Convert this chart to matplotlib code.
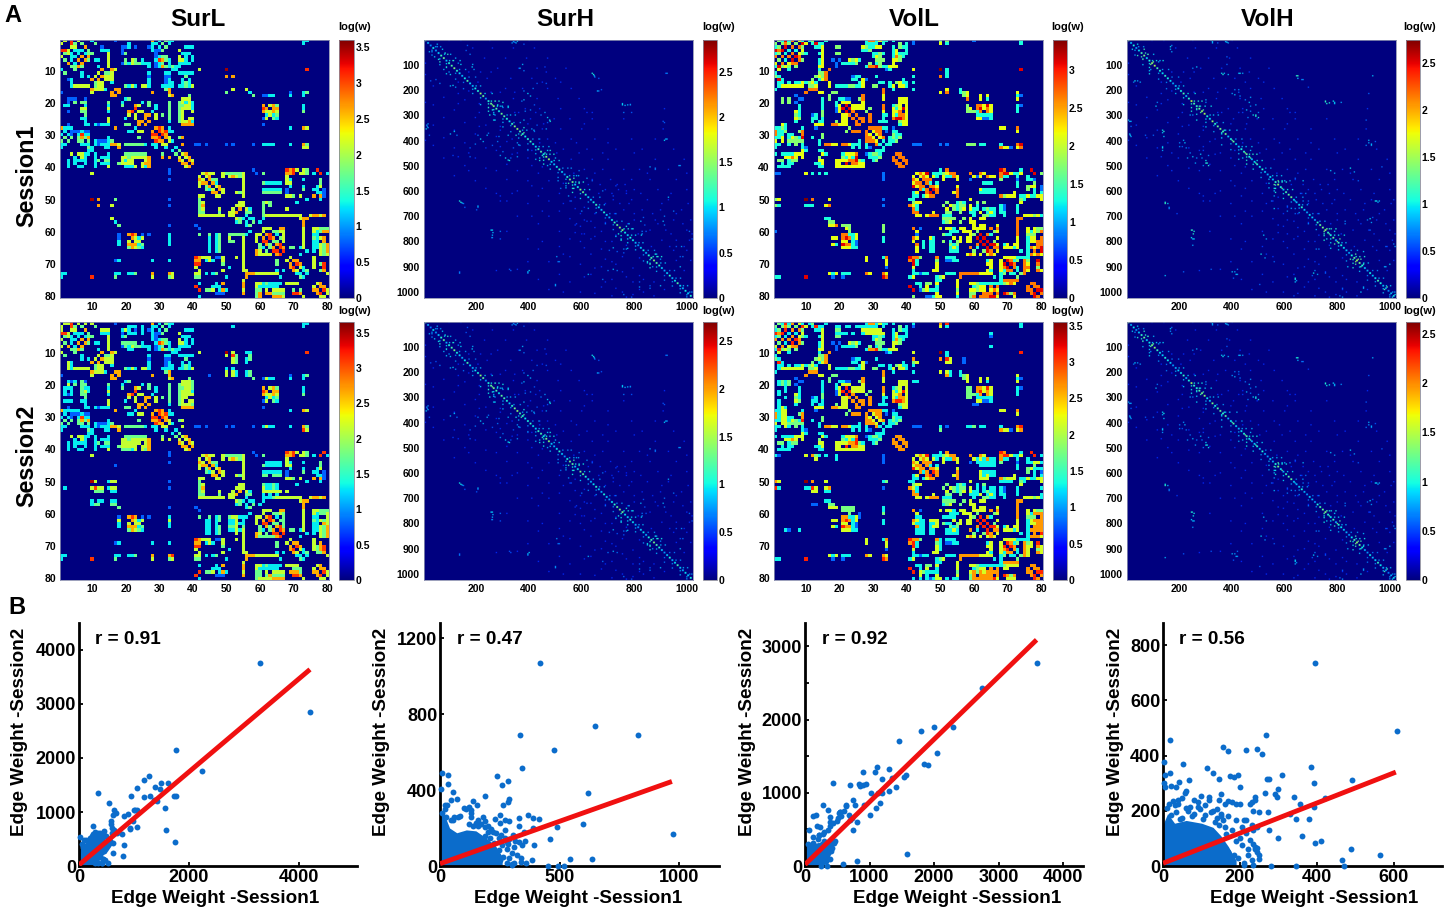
import numpy as np
import matplotlib
matplotlib.use("Agg")
import matplotlib.pyplot as plt

plt.rcParams['font.family'] = ['Liberation Sans', 'DejaVu Sans']
plt.rcParams['font.weight'] = 'bold'

W, H = 1446, 913

# colour levels (log w)
K, R, O, Y, G, C, B = 3.5, 3.1, 2.65, 2.15, 1.75, 1.3, 0.8

# (row, cols, level), matrices are symmetric so one triangle is enough
SURL_BASE = [
    (1, [2, 6], Y), (1, [4], R), (1, [10], C), (1, [17], B), (1, [28, 32], O), (1, [30], R), (1, [34], C), (1, [73, 74], C),
    (2, [5, 7, 11], G), (2, [29, 31, 33], C),
    (3, [8], O), (3, [4, 5], Y), (3, [13, 19, 20, 23, 27], B), (3, [38, 39, 40], C),
    (4, [1, 2], R), (4, [5, 6, 7], C), (4, [9], G), (4, [13, 14, 15], C), (4, [19, 29, 30], B),
    (5, [6, 8, 37], C), (5, [9, 10], G), (5, [39], C),
    (6, [7, 9], O), (6, [15], Y), (6, [29, 30, 31], Y), (6, [38, 40], C),
    (7, [8], O), (7, [9, 15], G), (7, [11, 12], C), (7, [29, 32, 33], C), (7, [30, 31], O), (7, [36, 37], Y),
    (8, [15], Y), (8, [19, 20, 21, 24, 25], G), (8, [22, 23], Y), (8, [26, 27], C), (8, [36, 38, 39], C),
    (9, [12, 15], C), (9, [27, 29, 30, 34], G), (9, [31], O), (9, [33, 36], C),
    (10, [50], K), (10, [74], R), (10, [13, 16], O), (10, [17], Y), (10, [34, 35], C), (10, [42], G),
    (11, [12], Y), (11, [14, 15], G), (11, [27, 32, 33, 36, 38, 40], C),
    (12, [13, 16], O), (12, [50, 52], O), (12, [14, 15], Y), (12, [27, 32, 33], B),
    (13, [14, 15], Y), (13, [16], C), (13, [37, 39], C),
    (14, [16], C), (14, [27, 37, 38, 39], C),
    (15, [5, 6, 7, 8, 9], Y), (15, [20, 21, 22, 23], G), (15, [25, 26, 27], Y), (15, [31, 32], C), (15, [37, 38, 39, 40], Y),
    (16, [11, 12, 13], Y), (16, [17, 18], O), (16, [33], O), (16, [52], Y), (16, [56], G),
    (17, [18], O), (17, [28], Y), (17, [33], C), (17, [50], C), (17, [57], C), (17, [69], B), (17, [73, 74], C),
    (18, [33, 34], O), (18, [39], G), (18, [58], G), (18, [62], G), (18, [64], C), (18, [69], B), (18, [73], G),
    (19, [3, 5, 8], B), (19, [20, 21], G), (19, [37, 38, 39], C),
    (20, [5, 7, 8], G), (20, [19, 25], C), (20, [37, 38, 39, 40], C),
    (21, [2, 3, 8, 15], C), (21, [23], O), (21, [24], Y), (21, [33], Y), (21, [37, 40], G),
    (22, [7, 8], Y), (22, [15], Y), (22, [23], R), (22, [33], Y), (22, [37, 39, 40], Y), (22, [62, 64, 65], O), (22, [73], C),
    (23, [7, 8], G), (23, [15], C), (23, [24, 25], Y), (23, [28], C), (23, [33], C), (23, [36, 37, 40], Y), (23, [62, 65], Y), (23, [73], G),
    (24, [8], G), (24, [26, 27], O), (24, [31], G), (24, [33], C), (24, [36, 37], C), (24, [62], C), (24, [64, 65], C),
    (25, [7, 8], C), (25, [26], O), (25, [33], G), (25, [37, 40], Y), (25, [62, 64, 65], Y),
    (26, [26, 27], O), (26, [33], C), (26, [36, 37], C), (26, [39], R),
    (27, [8, 9, 11, 13, 14, 15], C), (27, [20, 21], G), (27, [37, 38, 39, 40], O), (27, [61], B),
    (28, [1], O), (28, [2, 3, 4], C), (28, [17], O), (28, [29, 31], O), (28, [30], R), (28, [33], C), (28, [69], C), (28, [73], O), (28, [74], Y),
    (29, [5, 6, 8, 9], B), (29, [30, 32], R), (29, [31], O), (29, [21, 22], C), (29, [33, 34], C), (29, [24, 25], Y),
    (30, [1, 3, 6, 8, 9], C), (30, [7], R), (30, [31], R), (30, [32], O),
    (31, [2, 4, 6, 8], G), (31, [32], O), (31, [33], Y), (31, [36], G), (31, [37], Y),
    (32, [1, 3, 6, 7, 9], G), (32, [12, 13, 14], B), (32, [16], G), (32, [33], Y), (32, [34], C),
    (33, [1, 2, 8], C), (33, [13, 14, 15], C), (33, [17], O), (33, [18], Y), (33, [20, 21, 22, 23, 24, 25], G), (33, [41, 42, 44], B), (33, [50, 52], B), (33, [58], B), (33, [61, 62, 63, 64], C), (33, [69], C), (33, [73], R), (33, [74], Y),
    (34, [35], C), (34, [73, 74], Y), (34, [14, 15], C),
    (35, [36], G), (35, [9, 10], C),
    (36, [4, 6, 7], Y), (36, [9, 15], C), (36, [37], Y), (36, [38], O), (36, [20, 21, 22, 23, 24, 25, 26], G),
    (37, [8, 11, 13, 15], C), (37, [19, 20, 24, 25, 26], Y), (37, [38], Y), (37, [39], O), (37, [31, 33], O),
    (38, [3, 5, 6, 7, 8], C), (38, [12, 14, 15], G), (38, [19, 21, 22, 26], Y), (38, [39], O), (38, [40], Y),
    (39, [3, 5, 8], C), (39, [11, 14, 15], C), (39, [19, 20, 21, 22, 25, 26], Y), (39, [26], O), (39, [40], O),
    (40, [20, 21, 22, 26], C), (40, [6, 7], C),
    (42, [43, 45, 46, 49], Y), (42, [44], O), (42, [51, 52, 53, 54], G), (42, [55], C), (42, [59], C), (42, [61], G), (42, [68], O), (42, [69, 70], R), (42, [72, 73, 74], G), (42, [76], C), (42, [78], R), (42, [80], G), (42, [10], Y),
    (43, [44], Y), (43, [45], O), (43, [52, 53, 54], Y), (43, [55], C), (43, [68], G),
    (44, [42, 45], O), (44, [55], Y), (44, [68], Y), (44, [73], C), (44, [46, 47], G),
    (45, [46], O), (45, [47], C), (45, [55], C), (45, [61, 62, 63, 64, 65, 66], C), (45, [68, 69], Y),
    (46, [47], Y), (46, [48], O), (46, [55], Y), (46, [69], G), (46, [77, 78], Y),
    (47, [48], O), (47, [49], Y), (47, [55], Y), (47, [61, 62, 63, 64, 65, 66], C), (47, [73], G), (47, [76, 79], C),
    (48, [49], Y), (48, [53, 54, 55], Y), (48, [61, 62, 63, 64, 65, 66], G), (48, [77, 78], C),
    (49, [68, 69], Y), (49, [70], G), (49, [72], Y), (49, [76, 78], O), (49, [42, 43], Y),
    (50, [42], G), (50, [10], K), (50, [12], O), (50, [17], G),
    (51, [54, 55], Y), (51, [61, 63], G), (51, [43], Y),
    (52, [53, 54, 55], Y), (52, [61, 63], G), (52, [43], O), (52, [12], O), (52, [16], Y),
    (53, [54], O), (53, [56], Y), (53, [57], C), (53, [43], Y),
    (54, [56, 57], G), (54, [61], Y), (54, [43, 48], G),
    (55, [42, 43, 44, 45, 46, 47, 48, 49], Y), (55, [56], C), (55, [61], Y), (55, [63, 64, 65, 66, 67, 68, 69], Y), (55, [70, 71, 72], Y), (55, [75, 76], Y), (55, [77, 78, 79], O),
    (56, [16], Y), (56, [57, 58], C), (56, [61], C), (56, [73], R),
    (57, [58], G), (57, [60], C), (57, [73], O), (57, [17], C),
    (58, [73], O), (58, [33], B), (58, [41], B), (58, [18], G),
    (59, [61, 62, 63], Y), (59, [66, 67], O), (59, [73], Y), (59, [77], Y), (59, [79, 80], G), (59, [42], B),
    (60, [61], Y), (60, [64, 65], G), (60, [66], Y), (60, [73], O),
    (61, [18], B), (61, [21, 23], O), (61, [22], R), (61, [25], B), (61, [33], C), (61, [42, 45], G), (61, [51, 53, 54, 55], G), (61, [62], O), (61, [63], R), (61, [65], C), (61, [73], O), (61, [76, 77], C),
    (62, [18], B), (62, [33], C), (62, [45], C), (62, [51, 55], Y), (62, [63], R), (62, [64], O), (62, [66], G), (62, [73], Y), (62, [76, 78], G),
    (63, [18], C), (63, [21], Y), (63, [23, 24], Y), (63, [33], C), (63, [45], C), (63, [64, 65], G), (63, [67], Y), (63, [73], Y), (63, [77], C),
    (64, [45], C), (64, [21, 23], O), (64, [25], G), (64, [55], Y), (64, [65], O), (64, [66], R), (64, [73], G), (64, [76, 78, 80], Y),
    (65, [21, 24], G), (65, [25], C), (65, [45], C), (65, [55], Y), (65, [66], R), (65, [67], O), (65, [69], G), (65, [70], C), (65, [72], C), (65, [77, 79], Y),
    (66, [45], C), (66, [55], Y), (66, [67], R), (66, [76, 78, 80], G),
    (67, [55], Y), (67, [72], C), (67, [78, 80], Y), (67, [60, 61, 62, 63], Y),
    (68, [41], R), (68, [43, 44], Y), (68, [47, 48], B), (68, [53, 55], Y), (68, [69], Y), (68, [76], C),
    (69, [18], C), (69, [28], C), (69, [33], C), (69, [41, 42], O), (69, [44, 46], C), (69, [55], Y), (69, [70], O), (69, [71], O),
    (70, [41], R), (70, [70], O), (70, [71], R), (70, [72], O), (70, [76], G), (70, [79], R), (70, [65], G),
    (71, [41], Y), (71, [51], C), (71, [72], Y), (71, [73], C), (71, [76], C), (71, [79], R),
    (72, [42], Y), (72, [55, 56], Y), (72, [65], C), (72, [73], C), (72, [74], G), (72, [79], O),
    (73, [1, 2], C), (73, [17, 18], C), (73, [21, 22], C), (73, [28], O), (73, [33], O), (73, [34], Y), (73, [41, 42], Y), (73, [44], C), (73, [46], C), (73, [56, 57], O), (73, [59, 60], Y), (73, [61, 62, 63, 64, 65], Y), (73, [74], C),
    (74, [10], R), (74, [17], G), (74, [1], C), (74, [28], Y), (74, [33], G), (74, [34], Y), (74, [41, 42], G), (74, [50], C), (74, [56], O), (74, [66], C),
    (76, [55], O), (76, [59, 60], Y), (76, [63, 64, 65, 66], C), (76, [68, 69, 70, 71], Y), (76, [77], Y), (76, [78], O),
    (77, [41], R), (77, [46, 47, 48], C), (77, [55], O), (77, [60, 62, 63, 64, 65], C), (77, [78], O), (77, [79], O),
    (78, [44, 45], G), (78, [48, 50], C), (78, [55], Y), (78, [59, 60], G), (78, [62, 64, 65, 66, 67], Y), (78, [70, 72], G), (78, [79], R), (78, [80], Y),
    (79, [47, 48, 49], B), (79, [55], O), (79, [60, 62, 63], O), (79, [64, 65, 66, 67], G), (79, [79, 80], O),
    (80, [42], C), (80, [60], O), (80, [64, 65, 66], O), (80, [73], Y), (80, [78, 79], Y),
]
# session 2 changes, level 0 clears a cell
SURL_S2 = [
    (10, [52], Y), (10, [56, 57], C), (11, [50], Y), (11, [52], R), (11, [53], Y), (11, [57], G), (12, [50], 0), (12, [57], G),
    (15, [50, 52], C), (16, [50, 52], Y), (16, [57], G), (17, [50], 0), (17, [45], B), (18, [62], Y),
    (1, [2, 3, 8, 10], Y), (2, [22, 23], C), (3, [13, 14, 15], Y), (3, [19, 20], Y), (4, [22, 23], C), (7, [19, 20, 21, 22, 23], G), (9, [21, 22], C),
    (19, [3, 5], C), (21, [2, 3, 4], C), (25, [2, 3, 4], C), (28, [2, 3, 4, 5, 6], C),
    (37, [31, 33], Y), (38, [19, 20, 21, 23, 24, 26], Y), (39, [19, 20, 21, 23, 25, 26], Y), (40, [19, 20, 21, 26], G),
    (34, [73], R), (33, [73], O), (33, [61], C), (33, [62], Y), (33, [64], C),
    (44, [62, 63, 64, 65, 66], C), (48, [63], 0),
    (52, [61, 63, 65], Y), (53, [61, 62, 63, 64, 65, 66], Y), (54, [61, 63, 65], C), (55, [61, 62], C),
    (62, [51, 52, 55], C), (63, [51, 52, 54, 55], C), (64, [51, 52, 55], G), (65, [51, 52], C),
    (50, [17], Y), (50, [16], Y), (52, [2], C), (52, [10, 12, 13], Y), (52, [16, 17], Y), (53, [11, 12, 13], G), (53, [16, 17], C), (56, [10, 12, 13, 16, 17], C), (57, [17], G),
    (67, [60, 61, 62, 63, 64], G), (80, [60, 61, 62, 63], Y), (80, [64, 65, 66, 67], O), (79, [60, 62, 64], G),
    (77, [70, 71, 72], G), (78, [69, 70, 71], O), (77, [41], 0), (79, [41], R),
]
VOLL_BASE = [
    (1, [2, 4, 8], Y), (1, [6], O), (1, [3, 5], C), (1, [9, 11], C), (1, [12], G), (1, [16], C), (1, [28, 29, 30], O), (1, [31, 33], C), (1, [36], C), (1, [42], B), (1, [50, 52], G), (1, [60], B), (1, [74], C),
    (2, [1, 3, 5, 7], G), (2, [9], R), (2, [12, 14, 15], C), (2, [29, 31, 33], C), (2, [13], Y),
    (3, [4], R), (3, [6, 8], O), (3, [13, 14, 15], Y), (3, [19], G), (3, [27, 28, 29, 30, 31], Y), (3, [39, 40], C),
    (4, [1], R), (4, [2], O), (4, [5, 7], C), (4, [9], Y), (4, [15], G), (4, [27, 28], C), (4, [36], C),
    (5, [6], O), (5, [8], Y), (5, [9], G), (5, [15], Y), (5, [19], G), (5, [31, 33], C), (5, [38, 39], C),
    (6, [7], R), (6, [8], O), (6, [15], G), (6, [30, 32], C), (6, [36, 37], O),
    (7, [8], O), (7, [9], G), (7, [15], Y), (7, [18], B), (7, [31, 32, 33], G), (7, [36, 37], Y),
    (8, [15], Y), (8, [19], B), (8, [21, 22, 23, 24], C), (8, [25], G), (8, [31], C),
    (9, [3, 5], G), (9, [29, 30, 31], O), (9, [33], B), (9, [34, 35, 36, 37], Y), (9, [14, 15], Y), (9, [19], B),
    (10, [2], Y), (10, [5], C), (10, [17], O), (10, [34], B), (10, [35], C), (10, [42], Y), (10, [50], K), (10, [52], C), (10, [74], R),
    (11, [14, 15, 16], G), (11, [52], C), (12, [13, 15], G), (12, [14, 16], Y), (12, [42], C), (12, [50], O), (12, [52], Y),
    (13, [2], R), (13, [3], C), (13, [15], Y), (13, [16], C), (13, [24, 25], C), (13, [27], C), (13, [28], B),
    (14, [3, 5, 7, 8, 10], C), (14, [13], C), (14, [39], C), (14, [26], C),
    (15, [3, 4, 5, 6, 7, 8, 9], Y), (15, [19, 20, 21, 22], C), (15, [23, 24, 25, 26, 27], G), (15, [30, 31], G), (15, [35, 36], Y), (15, [38, 39, 40], Y),
    (16, [11, 12, 13, 33], O), (16, [42], C), (17, [14, 15], Y), (17, [18, 19], G), (17, [33], O), (17, [50], C), (17, [52], G), (17, [56], C),
    (18, [33], O), (18, [57, 58], Y), (18, [73], G), (18, [74], B),
    (19, [20, 21], C), (19, [22, 23], B), (19, [26], G), (19, [33], O), (19, [58], O), (19, [62], Y), (19, [64], C), (19, [73], Y),
    (20, [3, 5], G), (20, [15], C), (20, [20], C), (20, [21, 22, 23], Y), (20, [38, 40], Y), (20, [7], B),
    (21, [15], C), (21, [24, 25, 26], Y), (21, [22], R), (21, [37, 38, 40], G), (21, [33], Y), (21, [74], B),
    (22, [23], R), (22, [24, 25, 26, 27], Y), (22, [29], Y), (22, [33], O), (22, [36, 38], Y), (22, [39], O), (22, [58, 59], C), (22, [61, 62, 63, 64, 65], O), (22, [73], C),
    (23, [7], Y), (23, [15], G), (23, [24], O), (23, [28], G), (23, [33], Y), (23, [36, 37, 40], Y), (23, [58, 59, 60], G), (23, [61, 62], O), (23, [65], Y), (23, [73], C),
    (24, [7], G), (24, [12], B), (24, [25], O), (24, [33, 34], C), (24, [37, 38], Y), (24, [61, 62], O), (24, [64], C), (24, [65], Y),
    (25, [7], Y), (25, [12, 15], C), (25, [26, 27], O), (25, [29], O), (25, [33], C), (25, [36], G), (25, [38], R), (25, [39], O), (25, [40], G), (25, [61, 62], Y), (25, [63, 64], B), (25, [65], C),
    (26, [7], C), (26, [12, 15], C), (26, [27], O), (26, [29], O), (26, [32, 33, 34], C), (26, [38], O),
    (27, [13, 14, 15], Y), (27, [18, 19], O), (27, [20, 21, 22], Y), (27, [38], C), (27, [39, 40], Y),
    (28, [1, 2], C), (28, [3], G), (28, [9], C), (28, [28, 29, 30, 31], O), (28, [33, 34], C), (28, [36], B), (28, [68, 69], Y), (28, [73], R),
    (29, [2, 3], C), (29, [4], G), (29, [8], G), (29, [22], G), (29, [24, 25], O), (29, [29], O), (29, [30], Y), (29, [31], O), (29, [36, 37], C), (29, [73], Y),
    (30, [2, 3, 5, 6], C), (30, [9], O), (30, [31], Y), (30, [32], O), (30, [37, 38], C),
    (31, [6], Y), (31, [9], R), (31, [12], C), (31, [29], O), (31, [32], Y), (31, [33], O), (31, [36, 37], C), (31, [38], G),
    (32, [1], Y), (32, [3], Y), (32, [5, 6], G), (32, [8, 9], G), (32, [14], C), (32, [28, 29], O), (32, [31], Y), (32, [33], C), (32, [35, 36], C), (32, [37], Y),
    (33, [1, 2], C), (33, [9], C), (33, [14], C), (33, [16, 17], O), (33, [18, 19], Y), (33, [21, 22], O), (33, [23], Y), (33, [24, 25], C), (33, [28], C), (33, [34, 35], C), (33, [42, 44], B), (33, [50, 52], B), (33, [58, 59, 60], G), (33, [62, 63], C), (33, [73], R),
    (34, [1], C), (34, [9], C), (34, [29], B), (34, [69, 70], Y), (34, [74], R), (34, [73], C), (34, [71], B),
    (35, [14, 15], C), (35, [31], C), (36, [3, 5, 6], C), (36, [8, 9], Y), (36, [16], C), (36, [21], C), (36, [22, 23, 24], Y), (36, [25], O), (36, [30, 31], G), (36, [37, 38], O),
    (37, [4, 5, 9], Y), (37, [14], G), (37, [22, 24], C), (37, [25], R), (37, [38, 39], O), (37, [29], C), (37, [32], G),
    (38, [2, 3, 6, 7], G), (38, [14, 15], Y), (38, [19, 20, 21], Y), (38, [23, 24], O), (38, [26], G), (38, [39, 40], O),
    (39, [3, 5, 6], C), (39, [13, 14], C), (39, [15], Y), (39, [19, 20], Y), (39, [22], R), (39, [24], O), (39, [26, 27], Y), (39, [40], O),
    (40, [2, 4, 5], C), (40, [14, 15], C), (40, [19, 20, 21, 22, 23, 24, 25, 26], Y),
    (42, [2], B), (42, [10], Y), (42, [12, 14], C), (42, [16], C), (42, [43, 45], Y), (42, [44], O), (42, [46], R), (42, [48, 49], C), (42, [51], G), (42, [52], O), (42, [53], R), (42, [59], G), (42, [68], O), (42, [69], R), (42, [73], G), (42, [74], C), (42, [78], R), (42, [80], G), (42, [33], B),
    (43, [44], Y), (43, [45], O), (43, [46, 48], Y), (43, [52, 53, 54], C), (43, [55], Y), (43, [60, 62], Y), (43, [64], Y), (43, [65, 66], Y), (43, [68, 69], Y), (43, [73], Y), (43, [33], B), (43, [76], C),
    (44, [45, 46, 47], O), (44, [55], Y), (44, [59], C), (44, [73], B), (44, [77], C),
    (45, [46], O), (45, [47], C), (45, [49], C), (45, [63, 64, 65], C), (45, [78], G),
    (46, [47, 48], O), (46, [49], Y), (46, [55], Y), (46, [77, 78], Y),
    (47, [48], R), (47, [49], O), (47, [55], Y), (47, [62, 63, 64, 65, 66], C), (47, [78], C),
    (48, [49], O), (48, [54, 55], Y), (48, [62, 63, 64, 65, 66], C), (48, [78, 80], C),
    (49, [42, 43], C), (49, [68, 70, 72], Y), (49, [74], C), (49, [78], O), (49, [80], C),
    (50, [2], Y), (50, [10], K), (50, [12], O), (50, [17], Y), (50, [33], B), (50, [41, 42], C),
    (51, [55, 56, 57], C), (51, [61, 63], G), (51, [43, 44], Y), (51, [52], G),
    (52, [2], C), (52, [10, 12], C), (52, [16], Y), (52, [17], O), (52, [33], B), (52, [53], Y), (52, [54], O), (52, [55], C), (52, [41], O), (52, [42], Y), (52, [57], G), (52, [68, 69], C), (52, [73], G),
    (53, [42], O), (53, [54], C), (53, [57], Y), (53, [59], Y),
    (54, [42], R), (54, [52, 53], G), (54, [60, 62, 65], Y), (54, [64, 66], C), (54, [42, 43], O), (54, [68, 69], C),
    (55, [43, 44], Y), (55, [47, 48, 49], O), (55, [53], C), (55, [60, 63, 65], C), (55, [75, 76, 77, 78, 79], Y), (55, [64, 66], G),
    (56, [16], C), (56, [51, 52, 53, 54], G), (56, [57], G), (56, [59], Y), (56, [62, 63], Y), (56, [73], O),
    (57, [17, 18], G), (57, [59, 60], Y), (57, [73], O),
    (58, [17, 18], Y), (58, [21, 22], G), (58, [33], G), (58, [62, 63], Y), (58, [73], Y),
    (59, [22], Y), (59, [33], G), (59, [42], O), (59, [44], B), (59, [50, 52], Y), (59, [54], C), (59, [61, 62, 63], Y), (59, [65, 67], O), (59, [73], O), (59, [78], B), (59, [79, 80], G),
    (60, [1], B), (60, [33], G), (60, [43], Y), (60, [53, 54], C), (60, [58, 59, 60], Y), (60, [61], G), (60, [66, 67], G), (60, [73], O), (60, [77, 79], C),
    (61, [21, 22], O), (61, [23, 24], C), (61, [43], B), (61, [52, 53], C), (61, [62], R), (61, [64], O), (61, [65], C), (61, [73], Y), (61, [76, 77, 78], G),
    (62, [18], Y), (62, [21], O), (62, [22], R), (62, [24], C), (62, [42], O), (62, [47], Y), (62, [33], C), (62, [54, 56], Y), (62, [63], R), (62, [73], Y), (62, [76, 77], Y), (62, [78, 80], O),
    (63, [21, 22], Y), (63, [24], C), (63, [42], Y), (63, [47], C), (63, [53], C), (63, [55], G), (63, [64], R), (63, [66], G), (63, [73], G), (63, [77], C),
    (64, [18], Y), (64, [21], R), (64, [22, 23], O), (64, [24], C), (64, [43], O), (64, [47], C), (64, [53, 55], G), (64, [65, 66], R), (64, [69, 70], C), (64, [72], Y), (64, [79, 80], O),
    (65, [21, 22], Y), (65, [24], C), (65, [43], Y), (65, [47], C), (65, [53, 55], C), (65, [66, 67], O), (65, [69, 70], Y), (65, [72], Y), (65, [73], G), (65, [77, 79], Y),
    (66, [43], Y), (66, [47], C), (66, [53, 55], C), (66, [67], R), (66, [76], C), (66, [78, 80], O),
    (67, [58, 60, 62, 64, 66], Y), (67, [76, 77, 78], C), (67, [79, 80], Y),
    (68, [28], Y), (68, [33], C), (68, [34], O), (68, [41], R), (68, [42, 43], O), (68, [44], G), (68, [49], O), (68, [52], C), (68, [53], C), (68, [69, 70, 71, 72], Y), (68, [73, 74, 75, 76], C),
    (69, [28], Y), (69, [34], Y), (69, [41], O), (69, [43], C), (69, [49], G), (69, [52, 53], B), (69, [55], C), (69, [70], R), (69, [71], O), (69, [72], C), (69, [73], G), (69, [76], G), (69, [79], R),
    (70, [42], R), (70, [43], C), (70, [49], Y), (70, [71], R), (70, [72], O), (70, [76], Y), (70, [79], O), (70, [64, 65], Y),
    (71, [42], Y), (71, [49], Y), (71, [65], Y), (71, [72], Y), (71, [73], C), (71, [76], O), (71, [79], O),
    (72, [42], C), (72, [48], Y), (72, [65], C), (72, [71], O), (72, [76], Y), (72, [79], O),
    (73, [17], Y), (73, [18], C), (73, [21, 22], C), (73, [28], O), (73, [29], Y), (73, [33], O), (73, [34], Y), (73, [42, 43], C), (73, [45, 46], C), (73, [52, 53, 54], C), (73, [56, 57, 58, 59, 60, 61], O), (73, [62, 63, 64, 65], Y), (73, [72], C), (73, [74], C),
    (74, [2], C), (74, [10], R), (74, [33], R), (74, [34], O), (74, [42], Y), (74, [41], C), (74, [50], G), (74, [51], Y), (74, [56], O), (74, [66], C), (74, [73], G),
    (75, [49, 50], C), (75, [69], O), (75, [70, 71, 72, 73], O),
    (76, [44], C), (76, [46, 47], G), (76, [49], Y), (76, [55], Y), (76, [59, 60], Y), (76, [62, 63, 64, 65], C), (76, [77, 78], O),
    (77, [41], R), (77, [46], Y), (77, [49], C), (77, [55], Y), (77, [62, 63], Y), (77, [65, 67], O), (77, [78, 79], O),
    (78, [44], B), (78, [48, 49], C), (78, [55], G), (78, [59, 60], Y), (78, [62, 63, 65, 67], Y), (78, [79, 80], R),
    (79, [49], Y), (79, [55], Y), (79, [59, 60], G), (79, [63], O), (79, [65, 67], O), (79, [71], G), (79, [80], O),
    (80, [42], G), (80, [46, 47], B), (80, [49, 50], Y), (80, [55], C), (80, [60], O), (80, [63], O), (80, [65, 66], R), (80, [72], Y),
]
VOLL_S2 = [
    (1, [42], C), (1, [50], O), (1, [52], R), (1, [60], 0), (2, [19, 20, 22, 23, 25, 26, 27], C), (3, [27, 28, 29, 30, 31, 32], Y), (4, [19, 20, 21, 22, 24], C), (4, [28, 29, 30, 31, 32, 33], Y),
    (5, [65], B), (8, [65], C), (10, [42], Y), (12, [42, 50], O), (12, [52, 53], R), (13, [42], G), (13, [43], Y), (13, [57], B), (16, [50], Y), (17, [50], 0), (19, [42, 43], C), (19, [58], Y),
    (22, [58, 59], G), (23, [58, 59], G), (24, [58, 59], G), (26, [60, 61], B), (33, [50], C), (33, [58, 59], C),
    (34, [50], C), (34, [70], Y), (50, [34], G), (52, [10], C), (52, [13], Y), (53, [12, 13], Y), (53, [16, 17], C), (57, [12], B), (65, [4, 8], C), (58, [17, 18], Y), (58, [21, 22], G), (59, [21, 22], G),
    (44, [61, 62, 63, 64], C), (45, [62, 63, 64, 65, 66], C), (48, [62, 63, 64], Y), (49, [62, 63, 64], Y), (50, [68, 69, 70, 71], C),
    (44, [78, 79, 80], Y), (46, [78, 79, 80], C), (61, [43, 44, 51, 54], C), (63, [43, 44, 47, 48, 52, 53], C), (65, [43, 44, 47, 48, 52, 53], C), (66, [43, 44, 47, 48, 52, 53], C),
    (76, [70, 71, 72, 73], Y), (77, [69, 70], Y), (78, [60, 62, 64, 65, 67], O), (79, [60, 62], O), (80, [60, 61, 63, 65], O), (80, [70, 71, 72], Y), (80, [42, 44, 46], C), (80, [52, 54], C),
]

# high resolution matrices: strength along the diagonal, one value per 10 nodes
SURH_DIAG = [1.6, 1.1, 0.9, 1.3, 1.0, 1.2, 1.5, 1.7, 1.1, 1.4, 1.6, 1.8, 1.4, 1.2, 1.1, 1.3, 1.6, 1.2, 1.1, 1.3,
             1.4, 1.9, 1.7, 1.0, 1.4, 1.7, 1.8, 1.6, 1.3, 1.7, 1.6, 1.4, 1.2, 1.5, 1.8, 1.9, 1.6, 1.4, 1.3, 1.4,
             1.5, 1.3, 1.2, 1.5, 1.6, 1.3, 1.8, 1.9, 1.2, 1.1, 1.3, 1.5, 1.2, 1.0, 1.4, 1.8, 1.7, 1.2, 1.3, 1.8,
             1.7, 1.4, 1.2, 1.1, 1.3, 1.5, 1.2, 1.1, 1.4, 1.2, 1.0, 1.3, 1.5, 1.7, 1.9, 1.8, 1.3, 1.2, 1.4, 1.3,
             1.1, 1.0, 1.2, 1.3, 1.1, 1.4, 1.6, 1.8, 1.6, 1.4, 1.2, 1.0, 1.2, 1.4, 1.1, 1.3, 1.6, 1.2, 1.1, 1.3, 1.2, 1.4]
VOLH_DIAG = [1.7, 1.1, 1.3, 1.0, 1.2, 1.5, 1.7, 1.2, 1.3, 1.8, 1.9, 1.5, 1.3, 1.2, 1.4, 1.3, 1.2, 1.0, 1.1, 1.2,
             1.3, 1.5, 1.1, 1.4, 1.9, 1.5, 1.4, 1.6, 1.8, 1.9, 1.3, 1.2, 1.8, 1.4, 1.6, 1.7, 1.5, 1.7, 1.1, 1.3,
             1.6, 1.2, 1.1, 1.3, 1.4, 1.6, 1.3, 1.1, 1.2, 1.4, 1.2, 1.4, 1.1, 1.0, 1.2, 1.1, 1.4, 1.8, 1.3, 1.1,
             1.5, 1.6, 1.7, 1.2, 1.1, 1.2, 1.4, 1.1, 1.0, 1.2, 1.1, 1.0, 1.4, 1.6, 1.7, 1.8, 1.4, 1.3, 1.6, 1.1,
             1.4, 1.3, 1.2, 1.1, 1.0, 1.3, 1.6, 1.9, 1.7, 1.3, 1.1, 1.0, 1.3, 1.1, 1.2, 1.5, 1.3, 1.1, 1.0, 0.9, 0.8, 1.0]
# (row, col, log w) of the spots off the diagonal
SURH_SPOTS = [
    (20, 50, 1.0), (40, 70, 1.1), (50, 30, 0.9), (60, 90, 1.3), (80, 55, 1.2), (75, 120, 1.0), (100, 140, 1.1), (110, 85, 1.3), (130, 95, 0.9),
    (100, 185, 1.0), (110, 183, 1.1), (120, 190, 0.9), (60, 175, 0.8), (45, 160, 0.7), (25, 165, 0.7), (15, 335, 0.9), (12, 345, 0.8), (20, 380, 0.7), (8, 355, 1.1),
    (140, 645, 1.2), (135, 640, 0.9), (150, 650, 0.8), (155, 665, 0.7), (205, 665, 0.8), (200, 675, 0.7), (260, 755, 1.1), (262, 765, 1.0), (260, 785, 0.9), (240, 380, 1.0), (245, 372, 0.8),
    (215, 395, 1.1), (225, 405, 1.0), (205, 380, 0.8), (195, 415, 0.8), (175, 430, 0.7), (265, 290, 1.0), (250, 300, 1.2), (270, 320, 1.1), (290, 460, 0.9), (310, 470, 1.1), (325, 480, 1.2), (300, 445, 0.8),
    (280, 405, 0.8), (260, 420, 0.7), (340, 10, 0.9), (350, 15, 1.0), (375, 100, 1.0), (365, 115, 1.1), (380, 125, 0.8), (395, 215, 1.1), (405, 225, 0.9), (385, 285, 0.8),
    (470, 330, 0.7), (478, 320, 1.1), (465, 355, 0.9), (440, 395, 0.7), (420, 365, 0.8), (380, 320, 1.0), (355, 410, 0.9), (460, 110, 0.6), (465, 175, 0.7), (430, 340, 0.7),
    (640, 135, 1.2), (648, 145, 1.0), (660, 205, 1.0), (755, 255, 1.1), (775, 260, 1.0), (785, 258, 0.9), (760, 290, 0.8), (790, 290, 0.7), (915, 400, 1.1), (920, 395, 1.0), (910, 325, 0.7), (925, 135, 0.9),
    (860, 505, 0.9), (880, 510, 0.8), (970, 500, 0.9), (930, 625, 1.0), (950, 680, 0.8), (705, 835, 0.7), (720, 825, 1.0), (700, 915, 0.8), (720, 910, 1.0), (735, 915, 0.8), (505, 860, 0.9), (515, 880, 0.8), (500, 975, 0.9),
    (400, 915, 1.0), (395, 925, 0.9), (330, 915, 0.7), (135, 920, 0.7), (620, 720, 0.6), (580, 730, 0.6), (600, 770, 0.5), (680, 600, 0.8), (640, 560, 0.7), (620, 550, 0.9), (560, 510, 0.9), (540, 580, 1.0), (520, 590, 0.8),
    (780, 730, 1.1), (770, 740, 1.2), (790, 750, 1.0), (760, 830, 0.8), (735, 840, 0.7), (830, 770, 0.9), (845, 760, 0.7), (880, 850, 1.2), (890, 860, 1.3), (850, 885, 1.0), (870, 900, 0.9), (900, 975, 1.0), (860, 975, 0.7), (980, 820, 0.9), (985, 860, 0.8), (960, 820, 0.7), (1010, 760, 0.8), (1020, 790, 0.7),
    (480, 440, 1.2), (460, 450, 1.3), (440, 470, 1.1), (500, 470, 1.0), (570, 550, 1.4), (590, 570, 1.3), (370, 380, 1.5), (350, 380, 1.2), (260, 260, 1.6), (245, 270, 1.3), (280, 260, 1.2), (300, 270, 0.9),
]
VOLH_SPOTS = [
    (20, 40, 1.1), (40, 65, 1.3), (60, 80, 1.4), (70, 55, 1.3), (90, 100, 1.5), (85, 125, 1.0), (120, 90, 0.9), (25, 170, 0.8), (40, 165, 0.9), (10, 325, 1.0), (12, 380, 1.0), (15, 345, 0.7),
    (140, 365, 1.2), (140, 385, 1.0), (135, 425, 0.9), (110, 265, 1.0), (165, 30, 1.1), (170, 50, 0.9), (100, 380, 0.7), (70, 380, 0.7), (115, 250, 0.8),
    (145, 650, 1.3), (160, 665, 0.8), (145, 935, 1.0), (248, 755, 1.2), (252, 770, 1.2), (250, 790, 1.0), (250, 815, 0.7), (200, 410, 0.8), (215, 400, 0.9), (225, 430, 0.8), (210, 425, 0.7),
    (250, 465, 1.0), (260, 490, 0.9), (280, 455, 1.0), (265, 470, 0.8), (240, 300, 0.9), (300, 490, 1.2), (310, 500, 1.2), (250, 300, 0.8), (320, 5, 1.0), (325, 15, 0.9), (375, 10, 1.0), (385, 15, 0.9),
    (360, 135, 1.1), (370, 135, 1.0), (430, 135, 1.1), (440, 135, 0.9), (410, 220, 1.0), (425, 200, 0.8), (450, 240, 0.8), (470, 230, 0.9), (480, 300, 1.1), (490, 305, 1.2), (500, 290, 0.8), (470, 285, 0.8), (460, 310, 0.8), (440, 290, 0.6),
    (320, 910, 0.7), (410, 920, 0.9), (420, 930, 0.9), (405, 945, 0.7), (645, 145, 1.2), (650, 155, 1.0), (670, 160, 0.8), (690, 190, 0.6), (755, 245, 1.3), (760, 255, 1.2), (785, 245, 1.1), (790, 255, 1.0), (815, 250, 0.9),
    (640, 945, 1.1), (645, 955, 0.9), (715, 915, 0.8), (705, 935, 0.7), (925, 710, 1.1), (930, 725, 0.9), (920, 400, 1.0), (930, 415, 1.0), (910, 420, 0.8), (920, 215, 0.7), (850, 510, 1.1), (865, 525, 0.9), (880, 560, 0.7),
    (520, 775, 1.0), (530, 790, 0.9), (505, 970, 0.7), (640, 640, 1.0), (670, 560, 1.0), (680, 610, 0.8), (670, 640, 0.8), (550, 640, 0.7), (560, 620, 0.9), (575, 560, 1.5), (590, 590, 1.5), (560, 590, 1.1), (600, 560, 1.0), (610, 660, 0.7), (640, 690, 0.7),
    (760, 750, 1.5), (770, 770, 1.4), (750, 770, 1.2), (790, 760, 1.1), (800, 800, 1.6), (810, 790, 1.4), (790, 810, 1.3), (830, 720, 0.8), (730, 830, 0.8), (850, 870, 1.4), (870, 880, 1.6), (890, 870, 1.4), (900, 890, 1.3), (840, 900, 1.0), (900, 980, 0.9), (890, 1000, 1.0),
    (1005, 1005, 1.1), (1015, 1015, 1.2), (1010, 1020, 1.1), (1020, 1010, 1.0), (1020, 820, 0.9), (1015, 810, 0.8), (985, 900, 0.9), (980, 990, 1.4), (1015, 635, 0.6), (950, 640, 1.1), (960, 640, 1.0), (925, 755, 0.7), (985, 820, 0.7),
    (450, 450, 1.6), (470, 470, 1.4), (440, 470, 1.0), (490, 490, 1.4), (245, 245, 1.8), (265, 275, 1.3), (280, 290, 1.4), (370, 360, 1.2), (360, 390, 1.0), (400, 400, 1.4),
]
# the band of spots next to the diagonal: (node, offsets, log w)
NEAR_SPOTS = [
    (30, [14, 33], 0.9), (60, [18, 41], 1.0), (85, [12, 27, 52], 1.1), (120, [15, 38], 0.9), (150, [21, 46], 0.8), (185, [13, 30], 1.0), (215, [17, 44], 1.1), (245, [11, 26, 40], 1.2),
    (265, [14, 32, 55], 1.1), (300, [16, 29, 47], 1.0), (330, [12, 36], 0.9), (360, [15, 31, 58], 1.0), (395, [19, 42], 0.9), (425, [13, 28, 50], 1.0), (455, [11, 24, 39], 1.2), (480, [15, 34], 1.1),
    (510, [18, 37], 0.9), (540, [14, 30, 48], 1.0), (565, [12, 25, 41], 1.2), (595, [16, 35], 1.1), (625, [19, 44], 0.9), (655, [13, 31], 0.9), (690, [17, 40], 0.8), (720, [14, 33], 0.9),
    (750, [11, 27, 45], 1.2), (775, [15, 30, 52], 1.1), (805, [13, 28], 1.0), (835, [18, 42], 0.9), (860, [12, 26, 44], 1.2), (885, [16, 33], 1.0), (915, [20, 38], 0.8), (945, [14, 31], 0.9), (975, [12, 28], 1.0), (1000, [11, 19], 0.9),
]
# faint background spots shared by the high resolution panels: (row, cols)
FAINT_SPOTS = [
    (35, [185, 260, 340, 420]), (75, [230, 310, 390, 470]), (115, [280, 360, 430, 540]), (155, [240, 330, 410, 500]), (195, [310, 375, 470, 560]), (235, [340, 430, 510, 590]),
    (275, [385, 440, 520, 610, 915]), (315, [405, 495, 555, 640, 760]), (355, [450, 520, 600, 700, 910]), (395, [470, 560, 650, 790, 880]), (435, [530, 620, 730, 830, 950]), (475, [560, 640, 700, 880, 990]),
    (515, [610, 680, 760, 820, 930]), (555, [640, 710, 790, 860, 960]), (595, [690, 740, 800, 890, 1000]), (635, [720, 790, 850, 930]), (675, [760, 830, 900, 980]), (715, [800, 880, 950, 1015]),
    (755, [860, 920, 1000]), (795, [905, 960, 1010]), (835, [950, 1000]), (875, [960, 1015]), (915, [990]),
    (5, [95, 140, 250, 400]), (130, [170, 215, 255, 465]), (170, [205, 450, 520]), (210, [255, 290, 345]), (290, [360, 345, 425, 640, 620]), (335, [395, 455, 610]), (410, [440, 500, 580, 700]), (450, [505, 590, 680, 800]),
    (530, [570, 650, 850, 1000]), (575, [625, 670, 735, 765]), (610, [665, 715, 770, 825, 940]), (650, [690, 745, 780, 905, 1005]), (690, [725, 800, 870, 960]), (730, [775, 890, 985]), (770, [815, 940, 1020]), (820, [865, 935, 990]),
]

PANELS = ["SurL", "SurH", "VolL", "VolH"]
LOG_MAX = [[3.6, 2.85, 3.4, 2.75], [3.65, 2.7, 3.55, 2.62]]

# scatter, Session1 then Session2 weights
SURL_X = [3300, 4200, 2230, 1770, 1270, 1190, 1060, 950, 1380, 1470, 1500, 1620, 1190, 1020, 1730, 1770, 1560, 1580, 1750, 800, 810, 340, 540, 640, 620, 670, 600, 820, 900, 1000, 1060, 1050, 980, 920, 930, 590, 590, 600, 250, 300, 20, 90, 430, 610, 610, 630, 420, 1420, 1360, 1300, 780, 700, 640, 500, 460, 350, 300, 380, 420, 440, 480, 520,
          50, 80, 120, 180, 200, 230, 260, 300, 340, 390, 430, 150, 100, 400, 450, 480, 520, 560, 430, 380, 300, 350, 410]
SURL_Y = [3760, 2850, 1760, 2140, 1660, 1600, 1440, 1300, 1460, 1420, 1540, 1540, 1280, 1030, 1300, 1290, 1080, 660, 450, 180, 390, 1350, 1170, 1040, 940, 980, 700, 920, 960, 1030, 730, 1040, 840, 680, 700, 830, 780, 620, 740, 630, 540, 480, 610, 240, 430, 660, 50, 1210, 1230, 1290, 600, 620, 640, 560, 640, 620, 600, 580, 500, 130, 120, 60,
          400, 350, 480, 420, 520, 560, 600, 560, 580, 610, 600, 380, 300, 300, 280, 350, 430, 470, 130, 170, 60, 50, 60]
SURL_ENV_X = [0, 60, 120, 200, 280, 360, 440, 520, 600]
SURL_ENV_TOP = [320, 340, 370, 470, 540, 560, 520, 470, 430]
SURL_ENV_BOT = [0, 0, 0, 0, 30, 100, 210, 280, 400]
SURL_FIT = [[0, 4200], [20, 3640]]

SURH_X = [420, 830, 650, 475, 335, 345, 10, 35, 5, 35, 240, 285, 260, 55, 45, 70, 120, 190, 130, 155, 140, 100, 75, 55, 30, 20, 290, 285, 265, 330, 370, 390, 415, 250, 270, 290, 620, 600, 490, 460, 395, 975, 545, 635, 450, 495, 520, 330, 390, 350, 310, 355, 285, 245, 280, 300, 340, 220, 200, 180, 190, 150, 160, 130, 230, 250, 270,
          120, 140, 170, 200, 215, 235, 255, 270, 290, 305, 315, 330, 345, 260, 280, 300, 320, 340, 360, 385, 310, 300, 280, 250, 265, 245, 225, 210, 190, 180, 290, 240, 190, 160, 130, 110, 60, 45, 85, 20, 10, 25]
SURH_Y = [1070, 690, 735, 610, 690, 515, 490, 480, 405, 430, 475, 445, 425, 390, 350, 355, 310, 370, 295, 320, 340, 305, 260, 240, 320, 320, 355, 335, 320, 255, 270, 255, 250, 270, 240, 235, 385, 220, 205, 140, 110, 170, 35, 35, 0, 0, 0, 210, 200, 180, 100, 130, 115, 150, 125, 10, 20, 180, 210, 260, 205, 225, 210, 260, 250, 225, 190,
          220, 210, 220, 180, 195, 175, 165, 150, 140, 165, 130, 125, 110, 110, 90, 70, 60, 40, 15, 30, 15, 5, 15, 30, 50, 85, 120, 145, 160, 140, 40, 60, 235, 240, 280, 300, 260, 240, 265, 300, 280, 260]
SURH_ENV_X = [0, 15, 40, 70, 110, 150, 190, 230, 260]
SURH_ENV_TOP = [280, 280, 200, 175, 190, 185, 150, 110, 50]
SURH_ENV_BOT = [0, 0, 0, 0, 0, 0, 0, 0, 0]
SURH_FIT = [[0, 970], [12, 445]]

VOLL_X = [3590, 2740, 2300, 2000, 1800, 1460, 1840, 1900, 2050, 1580, 810, 590, 440, 690, 900, 1090, 1120, 1310, 1190, 1350, 1530, 1570, 1300, 1410, 1190, 1030, 1100, 1160, 1130, 1000, 950, 900, 850, 830, 750, 800, 910, 640, 540, 280, 130, 170, 60, 360, 380, 180, 230, 390, 510, 550, 500, 700, 750, 780, 520, 560, 600, 640, 680, 730, 450, 430, 380, 300, 350, 280, 120, 210, 280, 410,
          50, 130, 200, 260, 300, 340, 400, 150, 220, 420, 460, 180, 320, 380, 250, 340, 290, 350, 220]
VOLL_Y = [2770, 2430, 1900, 1900, 1840, 1710, 1390, 1380, 1540, 160, 70, 30, 1130, 1100, 1280, 1280, 1350, 1320, 1190, 1200, 1210, 1250, 1030, 1080, 1000, 1000, 790, 860, 1000, 690, 1120, 1100, 1090, 1120, 900, 600, 840, 830, 740, 830, 680, 690, 490, 770, 670, 550, 530, 600, 660, 740, 620, 630, 490, 830, 720, 680, 750, 820, 700, 650, 310, 590, 540, 470, 490, 440, 400, 430, 60, 210,
          300, 320, 370, 300, 340, 300, 320, 240, 280, 250, 340, 100, 70, 90, 0, 0, 150, 200, 430]
VOLL_ENV_X = [0, 60, 120, 200, 280, 340, 420]
VOLL_ENV_TOP = [290, 310, 300, 320, 320, 360, 390]
VOLL_ENV_BOT = [0, 0, 0, 0, 0, 60, 200]
VOLL_FIT = [[0, 3590], [20, 3090]]

VOLH_X = [395, 607, 267, 17, 170, 155, 215, 245, 258, 3, 52, 115, 5, 17, 130, 145, 175, 185, 195, 2, 5, 20, 35, 42, 67, 57, 60, 200, 265, 270, 290, 275, 300, 310, 295, 385, 393, 490, 420, 340, 355, 392, 380, 360, 300, 275, 330, 345, 272, 395, 410, 488, 465, 565, 470, 345, 280, 250, 245, 240, 230, 210, 150, 145, 120, 100, 90, 80, 50, 40, 30, 140, 160, 200, 190, 225, 240, 235, 180, 170, 210, 250, 240, 230, 245,
          130, 150, 170, 120, 190, 205, 215, 225, 235, 245, 220, 200, 180, 160, 145, 110, 90, 70, 60, 40, 25, 15, 10, 185, 195, 170, 160, 150, 215, 230, 235, 240, 250, 235, 210,
          20, 35, 50, 65, 80, 95, 110, 125, 140, 155, 45, 75, 105, 135, 165, 190, 205, 220]
VOLH_Y = [735, 490, 475, 455, 415, 430, 420, 425, 405, 375, 370, 355, 330, 335, 335, 315, 325, 323, 330, 300, 285, 290, 285, 305, 310, 265, 270, 285, 265, 315, 260, 315, 280, 330, 250, 360, 300, 310, 245, 250, 225, 215, 170, 110, 100, 130, 190, 170, 195, 85, 90, 60, 20, 40, 0, 0, 0, 40, 65, 60, 20, 10, 260, 240, 250, 255, 230, 240, 245, 240, 220, 205, 225, 225, 225, 225, 250, 200, 230, 235, 165, 195, 240, 230, 140,
          200, 190, 180, 240, 165, 140, 120, 95, 80, 50, 60, 100, 130, 140, 150, 220, 215, 215, 210, 225, 235, 225, 210, 40, 30, 50, 20, 180, 165, 150, 130, 70, 25, 5, 5,
          185, 195, 175, 200, 190, 205, 185, 195, 175, 165, 170, 180, 170, 160, 115, 90, 75, 40]
VOLH_ENV_X = [0, 12, 30, 60, 100, 130, 150, 170, 190]
VOLH_ENV_TOP = [150, 190, 155, 165, 155, 140, 110, 70, 20]
VOLH_ENV_BOT = [0, 0, 0, 0, 0, 0, 0, 0, 0]
VOLH_FIT = [[0, 605], [10, 340]]


def px_axes(fig, x0, x1, y0, y1):
    return fig.add_axes([x0 / W, 1 - y1 / H, (x1 - x0) / W, (y1 - y0) / H])


def build_low(*lists):
    m = np.zeros((80, 80))
    for entries in lists:
        for r, cols, v in entries:
            for c in cols:
                if r != c:
                    m[r - 1, c - 1] = m[c - 1, r - 1] = v
    return m


def build_high(diag, spots, scale=1.0):
    m = np.zeros((1024, 1024))

    def put(r, c, v, h=2):
        r0, c0 = max(r - h, 0), max(c - h, 0)
        m[r0:r + h + 1, c0:c + h + 1] = np.maximum(m[r0:r + h + 1, c0:c + h + 1], v * scale)
        m[c0:c + h + 1, r0:r + h + 1] = np.maximum(m[c0:c + h + 1, r0:r + h + 1], v * scale)

    for row, cols in FAINT_SPOTS:
        for c in cols:
            put(row, c, 0.5)
    for p, offs, v in NEAR_SPOTS:
        for o in offs:
            put(p, p + o, v * 0.9)
    for r, c, v in spots:
        put(r, c, v * 0.9)
    for k, v in enumerate(diag):
        p = 5 + k * 10
        put(p, p, v * 0.8, 3)
    return m


MATS = [
    [build_low(SURL_BASE), build_high(SURH_DIAG, SURH_SPOTS), build_low(VOLL_BASE), build_high(VOLH_DIAG, VOLH_SPOTS)],
    [build_low(SURL_BASE, SURL_S2), build_high(SURH_DIAG, SURH_SPOTS, 0.92), build_low(VOLL_BASE, VOLL_S2), build_high(VOLH_DIAG, VOLH_SPOTS, 0.9)],
]

fig = plt.figure(figsize=(W / 100, H / 100), dpi=100)

HEAT_X = [(60.5, 329), (424, 693), (774, 1043), (1127, 1396)]
BAR_X = [(339, 353.5), (703, 716.5), (1053, 1067), (1406, 1419.5)]
HEAT_Y = [(40, 298), (322, 580)]
TITLE_X = [198, 565, 914, 1268]
LOGW_X = [355, 719, 1068, 1420]
LOGW_Y = [27, 311]

for row in range(2):
    for col in range(4):
        ax = px_axes(fig, *HEAT_X[col], *HEAT_Y[row])
        m = MATS[row][col]
        n = m.shape[0]
        im = ax.imshow(m, cmap='jet', vmin=0, vmax=LOG_MAX[row][col], aspect='auto',
                       extent=(0.5, n + 0.5, n + 0.5, 0.5),
                       interpolation='nearest' if n == 80 else 'hanning')
        if n == 80:
            ax.set_xticks(range(10, 81, 10))
            ax.set_yticks(range(10, 81, 10))
        else:
            ax.set_xticks(range(200, 1001, 200))
            ax.set_yticks(range(100, 1001, 100))
        ax.tick_params(length=0, labelsize=7.5, pad=3)
        for s in ax.spines.values():
            s.set_color('#8a8fb0')
            s.set_linewidth(0.6)
        cax = px_axes(fig, *BAR_X[col], *HEAT_Y[row])
        cb = fig.colorbar(im, cax=cax)
        cb.set_ticks(np.arange(0, LOG_MAX[row][col], 0.5))
        cb.ax.set_yticklabels(['%g' % t for t in cb.get_ticks()])
        cb.ax.tick_params(length=0, labelsize=7.5, pad=1.5)
        cb.outline.set_edgecolor('#8a8a9a')
        cb.outline.set_linewidth(0.6)
        fig.text(LOGW_X[col] / W, 1 - LOGW_Y[row] / H, 'log(w)', fontsize=8, ha='center', va='center')

for col in range(4):
    fig.text(TITLE_X[col] / W, 1 - 20 / H, PANELS[col], fontsize=17.5, ha='center', va='center')

fig.text(27 / W, 1 - 176 / H, 'Session1', fontsize=16.8, rotation=90, ha='center', va='center')
fig.text(27 / W, 1 - 456 / H, 'Session2', fontsize=16.8, rotation=90, ha='center', va='center')
fig.text(4 / W, 1 - 16 / H, 'A', fontsize=17, ha='left', va='center')
fig.text(8 / W, 1 - 607 / H, 'B', fontsize=17, ha='left', va='center')

SCATTERS = [
    (SURL_X, SURL_Y, SURL_ENV_X, SURL_ENV_TOP, SURL_ENV_BOT, SURL_FIT, 'r = 0.91', (79, 357), 5055, 4500, [0, 2000, 4000], [0, 1000, 2000, 3000, 4000], [], 215, 20, 95),
    (SURH_X, SURH_Y, SURH_ENV_X, SURH_ENV_TOP, SURH_ENV_BOT, SURH_FIT, 'r = 0.47', (440, 719), 1167, 1279, [0, 500, 1000], [0, 400, 800, 1200], [], 578, 382, 457),
    (VOLL_X, VOLL_Y, VOLL_ENV_X, VOLL_ENV_TOP, VOLL_ENV_BOT, VOLL_FIT, 'r = 0.92', (805, 1083), 4310, 3320, [0, 1000, 2000, 3000, 4000], [0, 1000, 2000, 3000], [500, 1500, 2500], 957, 747, 822),
    (VOLH_X, VOLH_Y, VOLH_ENV_X, VOLH_ENV_TOP, VOLH_ENV_BOT, VOLH_FIT, 'r = 0.56', (1163, 1442), 725, 880, [0, 200, 400, 600], [0, 200, 400, 600, 800], [], 1314, 1115, 1179),
]
DOT = '#0b6ccb'
for xs, ys, ex, et, eb, fit, rtxt, xr, xmax, ymax, xt, yt, ymt, xlab, ylab, rx in SCATTERS:
    ax = px_axes(fig, xr[0], xr[1], 623, 866)
    ax.fill_between(ex, eb, et, color=DOT, lw=0, zorder=2)
    ax.scatter(xs, ys, s=18, color=DOT, lw=0, clip_on=False, zorder=3)
    ax.plot(fit[0], fit[1], color='#f01010', lw=3.5, zorder=4, solid_capstyle='butt')
    ax.set_xlim(0, xmax)
    ax.set_ylim(0, ymax)
    ax.set_xticks(xt)
    ax.set_yticks(yt)
    ax.set_yticks(ymt, minor=True)
    ax.spines['top'].set_visible(False)
    ax.spines['right'].set_visible(False)
    ax.spines['left'].set_linewidth(2)
    ax.spines['bottom'].set_linewidth(2)
    ax.tick_params(which='both', direction='in', length=3, width=1.3, labelsize=13, pad=2)
    fig.text(xlab / W, 1 - 898 / H, 'Edge Weight -Session1', fontsize=13.6, ha='center', va='center')
    fig.text(ylab / W, 1 - 732 / H, 'Edge Weight -Session2', fontsize=13.6, rotation=90, ha='center', va='center')
    fig.text(rx / W, 1 - 639 / H, rtxt, fontsize=13.7, ha='left', va='center')

fig.savefig('out.png', dpi=100)
